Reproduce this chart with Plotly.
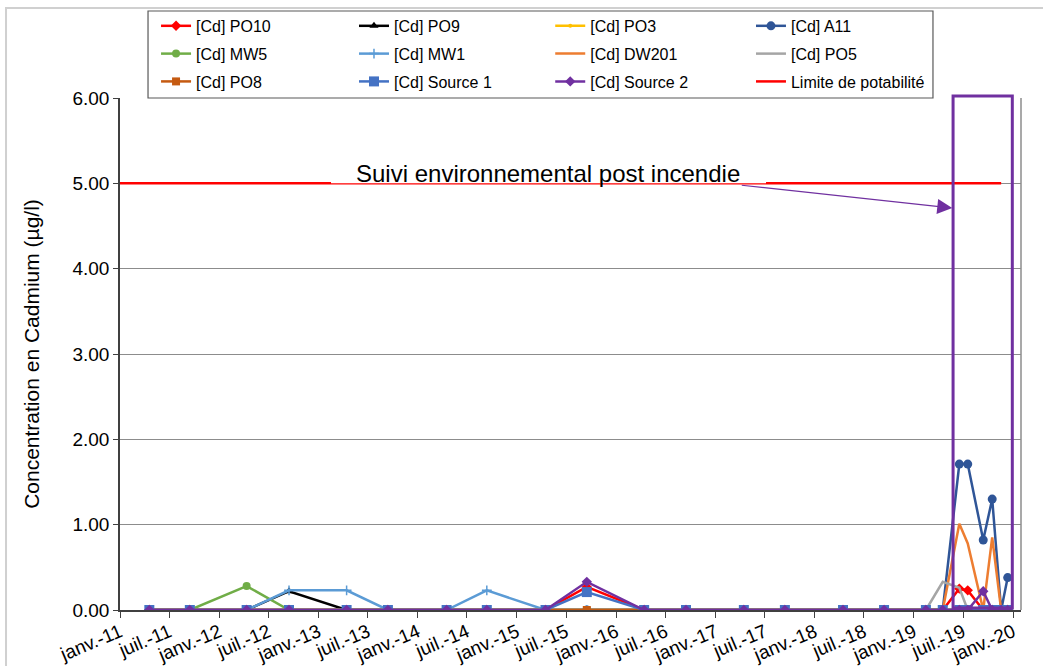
import plotly.graph_objects as go

# ---------------- data ----------------
dates = ["2011-04-19", "2011-09-15", "2012-04-11", "2012-09-14", "2013-04-14", "2013-09-13",
         "2014-04-17", "2014-09-12", "2015-04-16", "2015-09-15", "2016-04-13", "2016-09-14",
         "2017-04-15", "2017-09-13", "2018-04-15", "2018-09-13", "2019-02-14", "2019-04-17",
         "2019-06-17", "2019-07-18", "2019-09-13", "2019-10-16", "2019-11-18", "2019-12-12"]

po10    = [0, 0, 0, 0, 0, 0, 0, 0, 0, 0.27, 0, 0, 0, 0, 0, 0, 0, 0, 0.25, 0.23, 0, 0, 0, 0]
po9     = [0, 0, 0, 0.22, 0, 0, 0, 0, 0, 0, 0, 0, 0, 0, 0, 0, 0, 0, 0, 0, 0, 0, 0, 0]
po3     = [0, 0, 0, 0, 0, 0, 0, 0, 0, 0, 0, 0, 0, 0, 0, 0, 0, 0, 0, 0, 0, 0, 0, 0]
a11     = [0, 0, 0, 0, 0, 0, 0, 0, 0, 0, 0, 0, 0, 0, 0, 0, 0, 0, 1.71, 1.71, 0.82, 1.30, 0, 0.38]
mw5     = [0, 0, 0.28, 0, 0, 0, 0, 0, 0, 0, 0, 0, 0, 0, 0, 0, 0, 0, 0, 0, 0, 0, 0, 0]
mw1     = [0, 0, 0, 0.23, 0.23, 0, 0, 0.23, 0, 0, 0, 0, 0, 0, 0, 0, 0, 0, 0, 0, 0, 0, 0, 0]
dw201   = [0, 0, 0, 0, 0, 0, 0, 0, 0, 0, 0, 0, 0, 0, 0, 0, 0, 0, 1.01, 0.78, 0, 0.85, 0, 0]
po5     = [0, 0, 0, 0, 0, 0, 0, 0, 0, 0, 0, 0, 0, 0, 0, 0, 0, 0.33, 0.26, 0, 0, 0, 0, 0]
po8     = [0, 0, 0, 0, 0, 0, 0, 0, 0, 0, 0, 0, 0, 0, 0, 0, 0, 0, 0, 0, 0, 0, 0, 0]
source1 = [0, 0, 0, 0, 0, 0, 0, 0, 0, 0.21, 0, 0, 0, 0, 0, 0, 0, 0, 0, 0, 0, 0, 0, 0]
source2 = [0, 0, 0, 0, 0, 0, 0, 0, 0, 0.33, 0, 0, 0, 0, 0, 0, 0, 0, 0, 0, 0.22, 0, 0, 0]

limit_dates = ["2011-01-01", "2019-11-18"]
limit_vals = [5.0, 5.0]

tick_vals = ["2011-01-01", "2011-07-01", "2012-01-01", "2012-07-01", "2013-01-01", "2013-07-01",
             "2014-01-01", "2014-07-01", "2015-01-01", "2015-07-01", "2016-01-01", "2016-07-01",
             "2017-01-01", "2017-07-01", "2018-01-01", "2018-07-01", "2019-01-01", "2019-07-01",
             "2020-01-01"]
tick_text = ["janv.-11", "juil.-11", "janv.-12", "juil.-12", "janv.-13", "juil.-13",
             "janv.-14", "juil.-14", "janv.-15", "juil.-15", "janv.-16", "juil.-16",
             "janv.-17", "juil.-17", "janv.-18", "juil.-18", "janv.-19", "juil.-19",
             "janv.-20"]

FONT = "Liberation Sans, Arial, sans-serif"

# name, values, color, marker symbol, marker size, legend
series = [
    ("[Cd] PO10", po10, "#FF0000", "diamond", 8, "legend"),
    ("[Cd] PO9", po9, "#000000", "triangle-up", 8, "legend2"),
    ("[Cd] PO3", po3, "#FFC000", "circle", 4, "legend3"),
    ("[Cd] A11", a11, "#2F5597", "circle", 9, "legend4"),
    ("[Cd] MW5", mw5, "#70AD47", "circle", 8, "legend"),
    ("[Cd] MW1", mw1, "#5B9BD5", "cross-thin", 7, "legend2"),
    ("[Cd] DW201", dw201, "#ED7D31", None, 0, "legend3"),
    ("[Cd] PO5", po5, "#A5A5A5", None, 0, "legend4"),
    ("[Cd] PO8", po8, "#C55A11", "square", 8, "legend"),
    ("[Cd] Source 1", source1, "#4472C4", "square", 10, "legend2"),
    ("[Cd] Source 2", source2, "#7030A0", "diamond", 8, "legend3"),
]

fig = go.Figure()
for i, (name, vals, color, sym, size, leg) in enumerate(series):
    if sym is None:
        mode = "lines"
        marker = None
    else:
        mode = "lines+markers"
        if sym == "cross-thin":
            marker = dict(symbol=sym, size=size, color=color, line=dict(color=color, width=1.5))
        else:
            marker = dict(symbol=sym, size=size, color=color)
    fig.add_trace(go.Scatter(
        x=dates, y=vals, name=name, mode=mode,
        line=dict(color=color, width=2.5),
        marker=marker, legend=leg, legendgroup=name,
    ))

fig.add_trace(go.Scatter(
    x=limit_dates, y=limit_vals, name="Limite de potabilité", mode="lines",
    line=dict(color="#FF0000", width=2.5), legend="legend4", legendgroup="limit",
))

leg_common = dict(
    bgcolor="rgba(0,0,0,0)", borderwidth=0, orientation="v",
    font=dict(family=FONT, size=16, color="#000000"),
    xanchor="left", yanchor="top", y=1.174, tracegroupgap=4,
)

fig.update_layout(
    width=1043, height=666,
    margin=dict(l=120, r=22, t=98, b=56, autoexpand=False),
    paper_bgcolor="white", plot_bgcolor="white",
    font=dict(family=FONT, color="#000000"),
    showlegend=True,
    legend=dict(x=0.040, **leg_common),
    legend2=dict(x=0.2597, **leg_common),
    legend3=dict(x=0.4775, **leg_common),
    legend4=dict(x=0.7003, **leg_common),
    xaxis=dict(
        type="date", range=["2011-01-01", "2020-01-30"],
        tickmode="array", tickvals=tick_vals, ticktext=tick_text,
        tickangle=-23, tickfont=dict(family=FONT, size=19, color="#000000"),
        ticklabelstandoff=-4,
        showgrid=False, showline=True, linecolor="#404040", linewidth=1.5,
        ticks="outside", ticklen=6, tickcolor="#404040", tickwidth=1.2,
        zeroline=False, automargin=False,
    ),
    yaxis=dict(
        range=[0, 6], dtick=1, tick0=0, tickformat=".2f",
        tickfont=dict(family=FONT, size=19, color="#000000"),
        showgrid=True, gridcolor="#8c8c8c", gridwidth=1.2,
        showline=True, linecolor="#404040", linewidth=1.5,
        ticks="outside", ticklen=5, tickcolor="#404040", tickwidth=1.2,
        zeroline=False, automargin=False,
        title=dict(text="Concentration en Cadmium (µg/l)",
                   font=dict(family=FONT, size=21, color="#000000"), standoff=27),
    ),
)

shapes = [
    # outer chart border (left + top visible)
    dict(type="rect", xref="paper", yref="paper", x0=-0.1265, x1=1.3, y0=-0.4, y1=1.1758,
         line=dict(color="#d0d0d0", width=2), fillcolor="rgba(0,0,0,0)", layer="below"),
    # legend box
    dict(type="rect", xref="paper", yref="paper", x0=0.0311, x1=0.9023, y0=1.0, y1=1.1699,
         line=dict(color="#595959", width=1.2), fillcolor="white", layer="below"),
    # right plot border
    dict(type="line", xref="paper", yref="paper", x0=1, x1=1, y0=0, y1=1,
         line=dict(color="#8c8c8c", width=1.5), layer="below"),
    # text box covering top half of limit line
    dict(type="rect", xref="paper", yref="y", x0=0.2342, x1=0.717, y0=5.0, y1=5.3,
         line=dict(width=0), fillcolor="white", layer="above"),
    # highlight rectangle
    dict(type="rect", xref="x", yref="paper", x0="2019-05-25", x1="2019-12-29", y0=0.004, y1=1.0039,
         line=dict(color="#7030A0", width=3), fillcolor="rgba(0,0,0,0)", layer="above"),
]
fig.update_layout(shapes=shapes)

fig.add_annotation(
    text="Suivi environnemental post incendie", xref="paper", yref="y",
    x=0.475, y=5.11, xanchor="center", yanchor="middle", showarrow=False,
    font=dict(family=FONT, size=24, color="#000000"),
)
fig.add_annotation(
    text="", xref="x", yref="y", x="2019-05-22", y=4.71,
    ax=-212, ay=-23, showarrow=True, arrowhead=2, arrowsize=2.5, arrowwidth=1.2,
    arrowcolor="#7030A0",
)

fig.write_html("out.html", config={"displayModeBar": False},
               post_script="document.body.style.margin='0px';")
